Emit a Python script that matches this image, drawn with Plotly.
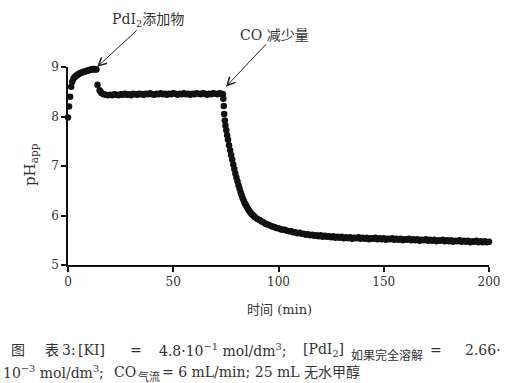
import plotly.graph_objects as go

# ---- data ----
time_rise = [0, 0.5, 1.0, 1.5, 2.0, 2.5, 3.0, 3.5, 4.0, 4.5, 5.0, 5.5, 6.0, 6.5, 7.0,
             7.5, 8.0, 8.5, 9.0, 9.5, 10.0, 10.5, 11.0, 11.5, 12.0, 12.5, 13.0, 13.5]
ph_rise = [7.98, 8.20, 8.40, 8.60, 8.70, 8.76, 8.79, 8.81, 8.83, 8.84, 8.86, 8.87, 8.88, 8.89, 8.90,
           8.90, 8.91, 8.92, 8.92, 8.93, 8.94, 8.94, 8.95, 8.95, 8.96, 8.96, 8.95, 8.95]

time_plateau = [14.0, 15.0, 15.5, 16, 17, 18, 19, 20, 21, 22, 23, 24, 25, 26, 27, 28, 29, 30,
                31, 32, 33, 34, 35, 36, 37, 38, 39, 40, 41, 42, 43, 44, 45, 46, 47, 48, 49, 50,
                51, 52, 53, 54, 55, 56, 57, 58, 59, 60, 61, 62, 63, 64, 65, 66, 67, 68, 69, 70,
                71, 72, 73]
ph_plateau = [8.64, 8.53, 8.50, 8.47, 8.45, 8.44, 8.43, 8.44, 8.43, 8.45, 8.44, 8.43, 8.45, 8.44, 8.46, 8.44, 8.45, 8.43,
              8.46, 8.45, 8.44, 8.46, 8.45, 8.44, 8.46, 8.45, 8.47, 8.45, 8.44, 8.46, 8.45, 8.47, 8.45, 8.46, 8.44, 8.46, 8.45, 8.47,
              8.46, 8.44, 8.46, 8.45, 8.47, 8.45, 8.46, 8.44, 8.46, 8.45, 8.47, 8.46, 8.45, 8.47, 8.46, 8.44, 8.46, 8.45, 8.47, 8.46,
              8.45, 8.47, 8.46]

time_drop = [73.6, 73.8, 74.0, 74.2, 74.5, 74.8, 75.2, 75.6, 76.0, 76.5, 77.0, 77.5, 78.0, 78.5,
             79.0, 79.5, 80.0, 80.5, 81.0, 81.5, 82.0, 82.5, 83.0, 83.5, 84.0, 84.5, 85.0, 85.5,
             86.0, 86.5, 87.0, 87.5, 88.0, 88.5]
ph_drop = [8.45, 8.36, 8.21, 8.05, 7.92, 7.82, 7.72, 7.62, 7.53, 7.42, 7.32, 7.22, 7.13, 7.03,
           6.94, 6.85, 6.77, 6.69, 6.61, 6.54, 6.47, 6.41, 6.35, 6.30, 6.25, 6.21, 6.17, 6.13,
           6.10, 6.07, 6.04, 6.02, 6.00, 5.98]

time_tail = [89, 90, 91, 92, 93, 94, 95, 96, 97, 98, 99, 100, 101, 102, 103, 104, 105, 106, 107, 108,
             109, 110, 111, 112, 113, 114, 115, 116, 117, 118, 119, 120, 121, 122, 123, 124, 125, 126,
             127, 128, 129, 130, 131, 132, 133, 134, 135, 136, 137, 138, 139, 140, 141, 142, 143, 144,
             145, 146, 147, 148, 149, 150, 151, 152, 153, 154, 155, 156, 157, 158, 159, 160, 161, 162,
             163, 164, 165, 166, 167, 168, 169, 170, 171, 172, 173, 174, 175, 176, 177, 178, 179, 180,
             181, 182, 183, 184, 185, 186, 187, 188, 189, 190, 191, 192, 193, 194, 195, 196, 197, 198,
             199, 200]
ph_tail = [5.96, 5.93, 5.91, 5.88, 5.86, 5.83, 5.82, 5.80, 5.78, 5.77, 5.75, 5.74, 5.72, 5.71, 5.71, 5.69, 5.68, 5.68, 5.66, 5.66,
           5.64, 5.65, 5.63, 5.63, 5.61, 5.62, 5.60, 5.61, 5.59, 5.60, 5.58, 5.60, 5.57, 5.59, 5.57, 5.58, 5.56, 5.58,
           5.55, 5.57, 5.55, 5.57, 5.54, 5.56, 5.54, 5.56, 5.53, 5.55, 5.54, 5.56, 5.53, 5.55, 5.53, 5.55, 5.52, 5.54,
           5.53, 5.55, 5.52, 5.54, 5.52, 5.54, 5.51, 5.53, 5.52, 5.54, 5.51, 5.53, 5.51, 5.53, 5.50, 5.52, 5.51, 5.53,
           5.50, 5.52, 5.50, 5.52, 5.49, 5.51, 5.50, 5.52, 5.49, 5.51, 5.49, 5.51, 5.48, 5.50, 5.49, 5.51, 5.48, 5.50,
           5.48, 5.50, 5.47, 5.49, 5.48, 5.50, 5.47, 5.49, 5.47, 5.49, 5.46, 5.48, 5.47, 5.49, 5.46, 5.48, 5.46, 5.48,
           5.46, 5.47]

x_ticks = [0, 50, 100, 150, 200]
y_ticks = [5, 6, 7, 8, 9]

time_all = time_rise + time_plateau + time_drop + time_tail
ph_all = ph_rise + ph_plateau + ph_drop + ph_tail

SERIF = "DejaVu Serif, Noto Sans CJK SC, serif"
TXT = "#333333"

W, H = 527, 383
ML, MR, MT, MB = 68, 38, 67, 118
PW, PH = W - ML - MR, H - MT - MB


def px_x(px):
    return (px - ML) / PW


def px_y(py):
    return 1 - (py - MT) / PH


fig = go.Figure()
fig.add_trace(go.Scatter(
    x=time_all, y=ph_all, mode="markers",
    marker=dict(color="#111111", size=6.5, line=dict(width=0)),
    cliponaxis=False, showlegend=False, hoverinfo="skip",
))

fig.update_layout(
    width=W, height=H,
    margin=dict(l=ML, r=MR, t=MT, b=MB, autoexpand=False),
    paper_bgcolor="white", plot_bgcolor="white",
    font=dict(family=SERIF, size=13, color=TXT),
    xaxis=dict(
        range=[0, 200], tickvals=x_ticks, ticktext=[str(v) for v in x_ticks],
        showgrid=False, zeroline=False, showline=True, linecolor="#111111", linewidth=2,
        ticks="outside", ticklen=5, tickwidth=1.5, tickcolor="#111111",
        tickfont=dict(family=SERIF, size=12, color=TXT), automargin=False,
    ),
    yaxis=dict(
        range=[5, 9], tickvals=y_ticks, ticktext=[str(v) for v in y_ticks],
        showgrid=False, zeroline=False, showline=True, linecolor="#111111", linewidth=1.5,
        ticks="outside", ticklen=5, tickwidth=1.5, tickcolor="#111111",
        tickfont=dict(family=SERIF, size=12, color=TXT), automargin=False,
    ),
)

# axis titles as annotations at measured spots
fig.add_annotation(x=px_x(279), y=px_y(309), xref="paper", yref="paper",
                   text="时间 (min)", showarrow=False, xanchor="center", yanchor="middle",
                   font=dict(family=SERIF, size=13, color=TXT))
fig.add_annotation(x=px_x(30), y=px_y(165), xref="paper", yref="paper",
                   text="pH<sub>app</sub>", showarrow=False, textangle=-90,
                   xanchor="center", yanchor="middle",
                   font=dict(family=SERIF, size=15, color=TXT))

fig.add_annotation(
    x=13.8, y=9.0, xref="x", yref="y", text="PdI<sub>2</sub>添加物",
    showarrow=True, arrowhead=5, arrowsize=1.6, arrowwidth=1, arrowcolor="#222222",
    ax=51, ay=-47, font=dict(family=SERIF, size=14, color=TXT),
)
fig.add_annotation(
    x=75.0, y=8.6, xref="x", yref="y", text="CO 减少量",
    showarrow=True, arrowhead=5, arrowsize=1.6, arrowwidth=1, arrowcolor="#222222",
    ax=49, ay=-52, font=dict(family=SERIF, size=14, color=TXT),
)

# caption pieces placed at measured left edges (justified lines)
caption_parts = [
    ("图", 9, 350, 14), ("表", 43, 350, 14), ("3:", 60, 350, 14), ("[KI]", 76, 350, 14),
    ("=", 128, 350, 14), ("4.8·10<sup>−1</sup> mol/dm<sup>3</sup>;", 157, 350, 14),
    ("[PdI<sub>2</sub>]", 301, 350, 14), ("如果完全溶解", 349, 355, 12),
    ("=", 428, 350, 14), ("2.66·", 463, 350, 14),
    ("10<sup>−3</sup> mol/dm<sup>3</sup>;", 1, 372, 14), ("CO", 112, 372, 14),
    ("气流", 136, 377, 11), ("= 6 mL/min; 25 mL 无水甲醇", 160, 372, 14),
]
for text, left, cy, size in caption_parts:
    fig.add_annotation(x=px_x(left), y=px_y(cy), xref="paper", yref="paper",
                       text=text, showarrow=False, xanchor="left", yanchor="middle",
                       font=dict(family=SERIF, size=size, color=TXT))

fig.write_html("out.html", config={"displayModeBar": False},
               post_script="document.body.style.margin='0';")
